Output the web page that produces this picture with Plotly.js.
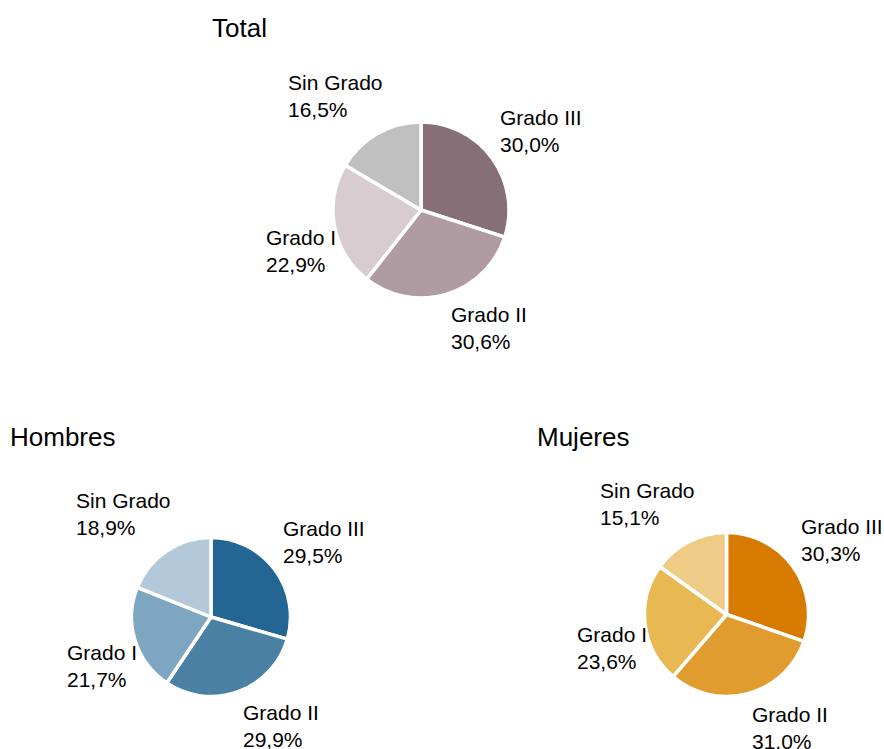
<!DOCTYPE html>
<html><head><meta charset="utf-8">
<script src="https://cdn.plot.ly/plotly-3.0.1.min.js"></script>
<style>html,body{margin:0;padding:0;background:#fff}</style>
</head><body><div id="chart" style="width:884px;height:749px"></div>
<script>
// ---- data ----
const categories = ['Grado III', 'Grado II', 'Grado I', 'Sin Grado'];
const totalValues = [30.0, 30.6, 22.9, 16.5];
const hombresValues = [29.5, 29.9, 21.7, 18.9];
const mujeresValues = [30.3, 31.0, 23.6, 15.1];
const panelTitles = ['Total', 'Hombres', 'Mujeres'];
const totalColors = ['#866f77', '#b09ba2', '#d9ccd1', '#c0c0c0'];
const hombresColors = ['#236694', '#4b80a5', '#7fa6c1', '#b3c9d9'];
const mujeresColors = ['#d67a00', '#e09c2e', '#e8b852', '#eecc86'];

// ---- layout ----
const W = 884, H = 749;
const FONT = 'Liberation Sans, Arial, sans-serif';
const panels = [
  {values: totalValues, colors: totalColors, title: panelTitles[0], cx: 421, cy: 210, r: 88, tx: 210, ty: 28},
  {values: hombresValues, colors: hombresColors, title: panelTitles[1], cx: 211, cy: 617, r: 79.5, tx: 8, ty: 437},
  {values: mujeresValues, colors: mujeresColors, title: panelTitles[2], cx: 726.5, cy: 614.5, r: 82, tx: 535, ty: 437}
];
const GAP = 7.5;

const traces = [];
const annotations = [];
panels.forEach(p => {
  traces.push({
    type: 'pie',
    labels: categories,
    values: p.values,
    sort: false,
    direction: 'clockwise',
    rotation: 0,
    textinfo: 'none',
    hoverinfo: 'skip',
    showlegend: false,
    marker: {colors: p.colors, line: {color: '#ffffff', width: 3.5}},
    domain: {
      x: [(p.cx - p.r) / W, (p.cx + p.r) / W],
      y: [1 - (p.cy + p.r) / H, 1 - (p.cy - p.r) / H]
    }
  });
  annotations.push({
    text: p.title, xref: 'paper', yref: 'paper',
    x: p.tx / W, y: 1 - p.ty / H, xanchor: 'left', yanchor: 'middle',
    showarrow: false, font: {family: FONT, size: 26, color: '#000'}
  });
  const total = p.values.reduce((a, b) => a + b, 0);
  let cum = 0;
  p.values.forEach((v, i) => {
    const mid = (cum + v / 2) / total;
    cum += v;
    const th = 2 * Math.PI * mid;
    const s = Math.sin(th), c = Math.cos(th);
    const px = p.cx + (p.r + GAP) * s;
    const py = p.cy - (p.r + GAP) * c;
    const left = s < 0;
    annotations.push({
      text: categories[i] + '<br>' + (v / total * 100).toFixed(1).replace('.', ',') + '%',
      xref: 'paper', yref: 'paper', x: px / W, y: 1 - py / H,
      xanchor: left ? 'right' : 'left',
      yanchor: c >= 0 ? 'bottom' : 'top',
      xshift: left ? 11 : 0,
      yshift: left ? 4 : (c >= 0 ? -4 : 0),
      align: 'left', showarrow: false,
      font: {family: FONT, size: 21, color: '#000'}
    });
  });
});

Plotly.newPlot('chart', traces, {
  width: W, height: H,
  margin: {l: 0, r: 0, t: 0, b: 0},
  paper_bgcolor: '#ffffff', plot_bgcolor: '#ffffff',
  annotations: annotations
}, {displayModeBar: false, staticPlot: true});
</script>
</body></html>
